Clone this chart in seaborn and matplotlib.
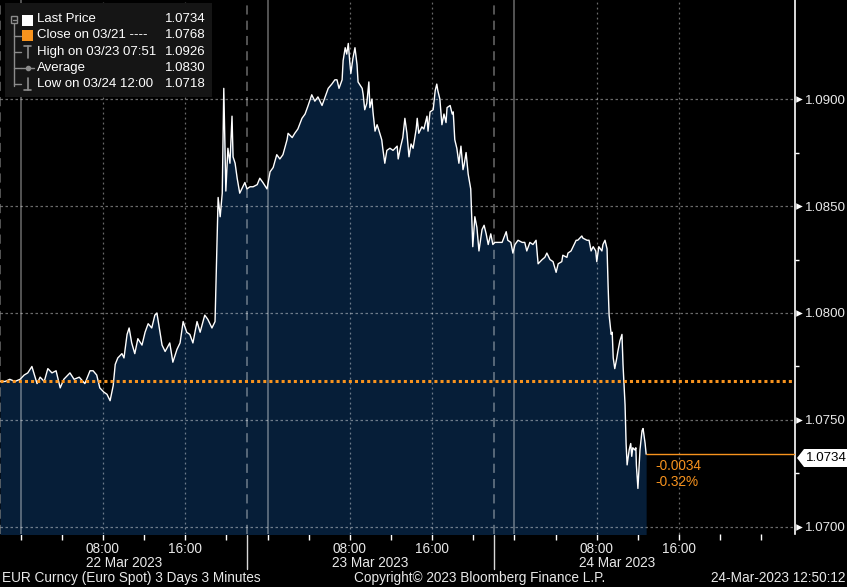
import pandas as pd
import matplotlib
matplotlib.use("Agg")
import matplotlib.pyplot as plt
from matplotlib.lines import Line2D
from matplotlib.patches import Rectangle, Polygon
import seaborn as sns

# ==============================
# Data (EUR spot, 3-minute bars)
# minutes counted from 21-Mar-2023 22:00
# ==============================
minutes = [
    0, 30, 57, 87, 117, 141, 162, 186, 216, 234,
    258, 279, 303, 327, 351, 372, 408, 432, 462, 495,
    525, 543, 564, 582, 606, 624, 642, 660, 672, 687,
    711, 723, 741, 753, 768, 786, 804, 828, 846, 864,
    885, 903, 915, 933, 945, 963, 990, 1008, 1032, 1050,
    1068, 1089, 1107, 1125, 1149, 1167, 1194, 1212, 1236, 1254,
    1266, 1272, 1284, 1296, 1305, 1317, 1329, 1341, 1353, 1359,
    1371, 1383, 1398, 1416, 1428, 1440, 1458, 1476, 1500, 1515,
    1533, 1557, 1575, 1593, 1614, 1632, 1650, 1674, 1680, 1704,
    1719, 1737, 1761, 1779, 1797, 1818, 1836, 1854, 1878, 1896,
    1914, 1935, 1953, 1965, 1977, 1995, 2001, 2013, 2022, 2031,
    2040, 2046, 2058, 2070, 2082, 2088, 2112, 2118, 2127, 2139,
    2151, 2157, 2169, 2175, 2187, 2199, 2211, 2226, 2232, 2244,
    2256, 2274, 2292, 2316, 2322, 2337, 2349, 2361, 2373, 2385,
    2397, 2409, 2427, 2433, 2442, 2460, 2472, 2490, 2496, 2508,
    2526, 2538, 2547, 2553, 2565, 2577, 2589, 2601, 2607, 2625,
    2637, 2643, 2652, 2664, 2676, 2688, 2700, 2706, 2718, 2730,
    2745, 2751, 2757, 2769, 2781, 2793, 2811, 2823, 2835, 2847,
    2862, 2874, 2886, 2904, 2928, 2952, 2961, 2979, 2991, 3003,
    3021, 3045, 3060, 3072, 3090, 3108, 3126, 3138, 3162, 3177,
    3189, 3207, 3225, 3243, 3255, 3276, 3282, 3306, 3312, 3330,
    3342, 3360, 3369, 3393, 3399, 3423, 3435, 3447, 3459, 3474,
    3480, 3492, 3510, 3516, 3528, 3540, 3546, 3552, 3564, 3570,
    3576, 3585, 3597, 3603, 3615, 3627, 3633, 3645, 3651, 3657,
    3669, 3678, 3684, 3690, 3702, 3708, 3711, 3720, 3732, 3744,
    3750, 3762, 3768,
]
price = [
    1.0768, 1.0768, 1.0769, 1.0768, 1.0769, 1.0771, 1.0772, 1.0775, 1.0767, 1.0770,
    1.0768, 1.0774, 1.0772, 1.0773, 1.0765, 1.0769, 1.0772, 1.0769, 1.0770, 1.0767,
    1.0773, 1.0773, 1.0771, 1.0765, 1.0763, 1.0762, 1.0759, 1.0766, 1.0776, 1.0779,
    1.0781, 1.0779, 1.0790, 1.0793, 1.0786, 1.0781, 1.0788, 1.0785, 1.0791, 1.0795,
    1.0793, 1.0799, 1.0800, 1.0791, 1.0785, 1.0782, 1.0786, 1.0777, 1.0783, 1.0786,
    1.0796, 1.0791, 1.0790, 1.0786, 1.0796, 1.0791, 1.0799, 1.0797, 1.0793, 1.0796,
    1.0836, 1.0854, 1.0845, 1.0856, 1.0905, 1.0857, 1.0877, 1.0870, 1.0892, 1.0873,
    1.0870, 1.0863, 1.0856, 1.0859, 1.0861, 1.0858, 1.0859, 1.0859, 1.0860, 1.0863,
    1.0861, 1.0858, 1.0866, 1.0868, 1.0874, 1.0872, 1.0874, 1.0881, 1.0884, 1.0882,
    1.0884, 1.0886, 1.0891, 1.0893, 1.0897, 1.0902, 1.0899, 1.0901, 1.0897, 1.0901,
    1.0905, 1.0907, 1.0909, 1.0909, 1.0905, 1.0909, 1.0918, 1.0924, 1.0921, 1.0926,
    1.0917, 1.0912, 1.0919, 1.0924, 1.0916, 1.0908, 1.0905, 1.0902, 1.0895, 1.0898,
    1.0908, 1.0896, 1.0900, 1.0894, 1.0885, 1.0888, 1.0885, 1.0881, 1.0877, 1.0870,
    1.0876, 1.0877, 1.0876, 1.0878, 1.0872, 1.0878, 1.0882, 1.0891, 1.0884, 1.0873,
    1.0879, 1.0877, 1.0886, 1.0891, 1.0884, 1.0887, 1.0886, 1.0892, 1.0885, 1.0894,
    1.0895, 1.0904, 1.0907, 1.0904, 1.0900, 1.0888, 1.0893, 1.0889, 1.0896, 1.0897,
    1.0893, 1.0894, 1.0881, 1.0877, 1.0870, 1.0878, 1.0867, 1.0869, 1.0875, 1.0865,
    1.0858, 1.0845, 1.0831, 1.0845, 1.0840, 1.0829, 1.0839, 1.0841, 1.0837, 1.0832,
    1.0837, 1.0832, 1.0833, 1.0833, 1.0833, 1.0838, 1.0834, 1.0833, 1.0828, 1.0832,
    1.0834, 1.0833, 1.0833, 1.0829, 1.0833, 1.0832, 1.0834, 1.0823, 1.0825, 1.0826,
    1.0828, 1.0825, 1.0824, 1.0819, 1.0823, 1.0824, 1.0827, 1.0826, 1.0828, 1.0829,
    1.0831, 1.0834, 1.0834, 1.0836, 1.0835, 1.0834, 1.0834, 1.0829, 1.0831, 1.0829,
    1.0824, 1.0831, 1.0829, 1.0832, 1.0834, 1.0830, 1.0813, 1.0799, 1.0790, 1.0791,
    1.0779, 1.0774, 1.0779, 1.0782, 1.0787, 1.0790, 1.0776, 1.0757, 1.0739, 1.0729,
    1.0736, 1.0739, 1.0733, 1.0737, 1.0736, 1.0737, 1.0729, 1.0718, 1.0736, 1.0745,
    1.0746, 1.0739, 1.0734,
]

close_prev = 1.0768
legend_rows = ["Last Price", "Close on 03/21 ----", "High on 03/23 07:51",
               "Average", "Low on 03/24 12:00"]
legend_vals = ["1.0734", "1.0768", "1.0926", "1.0830", "1.0718"]
last_price = 1.0734
net_change = "-0.0034"
pct_change = "-0.32%"

y_ticks = [1.0700, 1.0750, 1.0800, 1.0850, 1.0900]
y_minor = [1.0725, 1.0775, 1.0825, 1.0875]
day_labels = ["22 Mar 2023", "23 Mar 2023", "24 Mar 2023"]
footer_left = "EUR Curncy (Euro Spot) 3 Days 3 Minutes"
footer_mid = "Copyright\u00a9 2023 Bloomberg Finance L.P."
footer_right = "24-Mar-2023 12:50:12"

start = pd.Timestamp("2023-03-21 22:00")
df = pd.DataFrame({"time": start + pd.to_timedelta(minutes, unit="m"), "price": price})

# ==============================
# Style
# ==============================
NAVY = "#061e38"
ORANGE = "#f7931e"
TXT = "#e8e8e8"
GRID = (1, 1, 1, 0.42)

sns.set_theme(style="dark", rc={"axes.facecolor": "black", "figure.facecolor": "black"})
plt.rcParams["font.family"] = ["Liberation Sans", "DejaVu Sans"]

W, H = 847, 587


def fx(x):
    return x / W


def fy(y):
    return 1 - y / H


fig = plt.figure(figsize=(W / 100, H / 100), dpi=100, facecolor="black")
ax = fig.add_axes([0, fy(534), 795 / W, 534 / H])
ax.set_facecolor("black")

x0 = start
x1 = start + pd.Timedelta(minutes=4636)

# area + line
ax.fill_between(df["time"], df["price"], 1.0690, color=NAVY, lw=0, zorder=1)
sns.lineplot(data=df, x="time", y="price", color="white", lw=1.0, ax=ax, zorder=4)

# grid lines
for v in y_ticks:
    ax.axhline(v, color=GRID, lw=0.9, ls=(0, (2, 2)), zorder=2)
days = [pd.Timestamp("2023-03-22"), pd.Timestamp("2023-03-23"), pd.Timestamp("2023-03-24")]
for d in days:
    ax.axvline(d, color=GRID, lw=1.1, zorder=2)
    ax.axvline(d - pd.Timedelta(hours=2), color=GRID, lw=1.1, ls=(0, (6, 4)), zorder=2)
    for h in (8, 16):
        ax.axvline(d + pd.Timedelta(hours=h), color=GRID, lw=0.9, ls=(0, (1.5, 2.5)), zorder=2)

# previous close and last price
ax.axhline(close_prev, color=ORANGE, lw=2.2, ls=(0, (1, 1)), zorder=5)
ax.hlines(last_price, df["time"].iloc[-1], x1, color=ORANGE, lw=1, zorder=5)

ax.set_xlim(x0, x1)
ax.set_ylim(1.06967, 1.09463)
ax.set_xlabel("")
ax.set_ylabel("")
for s in ["top", "left", "bottom"]:
    ax.spines[s].set_visible(False)
ax.spines["right"].set_visible(True)
ax.spines["right"].set_color("white")
ax.spines["right"].set_linewidth(1.2)

# y axis on the right
ax.yaxis.tick_right()
ax.set_yticks(y_ticks)
ax.set_yticklabels([f"{v:.4f}" for v in y_ticks])
ax.set_yticks(y_minor, minor=True)
ax.tick_params(axis="y", which="major", right=True, left=False, length=0, pad=7.5,
               labelcolor=TXT, labelsize=9.6)
ax.tick_params(axis="y", which="minor", right=True, left=False, length=3, width=1,
               color="white", direction="out")
ax.scatter([1.0055] * len(y_ticks), y_ticks, marker=">", s=22, color="white",
           transform=ax.get_yaxis_transform(), clip_on=False, zorder=6, linewidths=0)

# x axis
major_x = [d + pd.Timedelta(hours=h) for d in days for h in (8, 16)]
minor_x = list(pd.date_range("2023-03-22 00:00", "2023-03-25 00:00", freq="4h"))
minor_x = [t for t in minor_x if t.hour not in (8, 16)]
ax.set_xticks(major_x)
ax.set_xticklabels([t.strftime("%H:%M") for t in major_x])
ax.set_xticks(minor_x, minor=True)
ax.tick_params(axis="x", which="both", bottom=True, length=4, width=1, color="white",
               direction="out", pad=2, labelcolor=TXT, labelsize=9.8)

for lab, xc in zip(day_labels, [124, 370, 617]):
    fig.text(fx(xc), fy(563), lab, ha="center", va="center", color=TXT, fontsize=9.8)
for xs in (247, 494):
    fig.add_artist(Line2D([fx(xs), fx(xs)], [fy(535), fy(569)], color="#d8d8d8", lw=1))

# footer
fig.text(fx(2), fy(578), footer_left, ha="left", va="center", color=TXT, fontsize=9.8)
fig.text(fx(480), fy(578), footer_mid, ha="center", va="center", color=TXT, fontsize=9.8)
fig.text(fx(845), fy(578), footer_right, ha="right", va="center", color=TXT, fontsize=9.8)

# change annotation
fig.text(fx(655), fy(466), net_change, ha="left", va="center", color=ORANGE, fontsize=9.8)
fig.text(fx(655), fy(482), pct_change, ha="left", va="center", color=ORANGE, fontsize=9.8)

# last price tag on the axis
tag = [(fx(797), fy(458)), (fx(804), fy(449)), (fx(847), fy(449)),
       (fx(847), fy(467)), (fx(804), fy(467))]
fig.add_artist(Polygon(tag, closed=True, transform=fig.transFigure, fc="white", ec="none", zorder=6))
fig.text(fx(806), fy(458), f"{last_price:.4f}", ha="left", va="center", color="black",
         fontsize=9.6, zorder=7)

# legend panel
fig.add_artist(Rectangle((fx(5), fy(97)), 207 / W, 94 / H, transform=fig.transFigure,
                         fc="#151515", ec="none", zorder=5))
row_y = [19.5, 35.5, 52, 68, 84]
ICON = "#8c8c8c"
fig.add_artist(Line2D([fx(14), fx(14)], [fy(22), fy(86)], color=ICON, lw=1, zorder=6))
fig.add_artist(Rectangle((fx(11), fy(22.5)), 6 / W, 6 / H, transform=fig.transFigure,
                         fc="#151515", ec=ICON, lw=1, zorder=7))
fig.add_artist(Line2D([fx(12.5), fx(15.5)], [fy(19.5), fy(19.5)], color=ICON, lw=1, zorder=8))
for yy in row_y[1:]:
    fig.add_artist(Line2D([fx(14), fx(21)], [fy(yy), fy(yy)], color=ICON, lw=1, zorder=6))
fig.add_artist(Rectangle((fx(22), fy(26)), 11 / W, 11 / H, transform=fig.transFigure,
                         fc="white", ec="none", zorder=7))
fig.add_artist(Rectangle((fx(22), fy(41)), 11 / W, 11 / H, transform=fig.transFigure,
                         fc=ORANGE, ec="none", zorder=7))
# high / average / low icons
fig.add_artist(Line2D([fx(24), fx(31)], [fy(46), fy(46)], color=ICON, lw=1.2, zorder=7))
fig.add_artist(Line2D([fx(27.5), fx(27.5)], [fy(46), fy(58)], color=ICON, lw=1.2, zorder=7))
fig.add_artist(Line2D([fx(21), fx(34)], [fy(68), fy(68)], color=ICON, lw=1, zorder=7))
fig.add_artist(Line2D([fx(27.5)], [fy(68)], color=ICON, marker="o", ms=3, lw=0, zorder=8))
fig.add_artist(Line2D([fx(24), fx(31)], [fy(90), fy(90)], color=ICON, lw=1.2, zorder=7))
fig.add_artist(Line2D([fx(27.5), fx(27.5)], [fy(78), fy(90)], color=ICON, lw=1.2, zorder=7))

for lab, val, yy in zip(legend_rows, legend_vals, row_y):
    fig.text(fx(37), fy(yy), lab, ha="left", va="center", color="white", fontsize=9.5, zorder=8)
    fig.text(fx(206), fy(yy), val, ha="right", va="center", color="white", fontsize=9.5, zorder=8)

fig.savefig("out.png", dpi=100, facecolor="black")
